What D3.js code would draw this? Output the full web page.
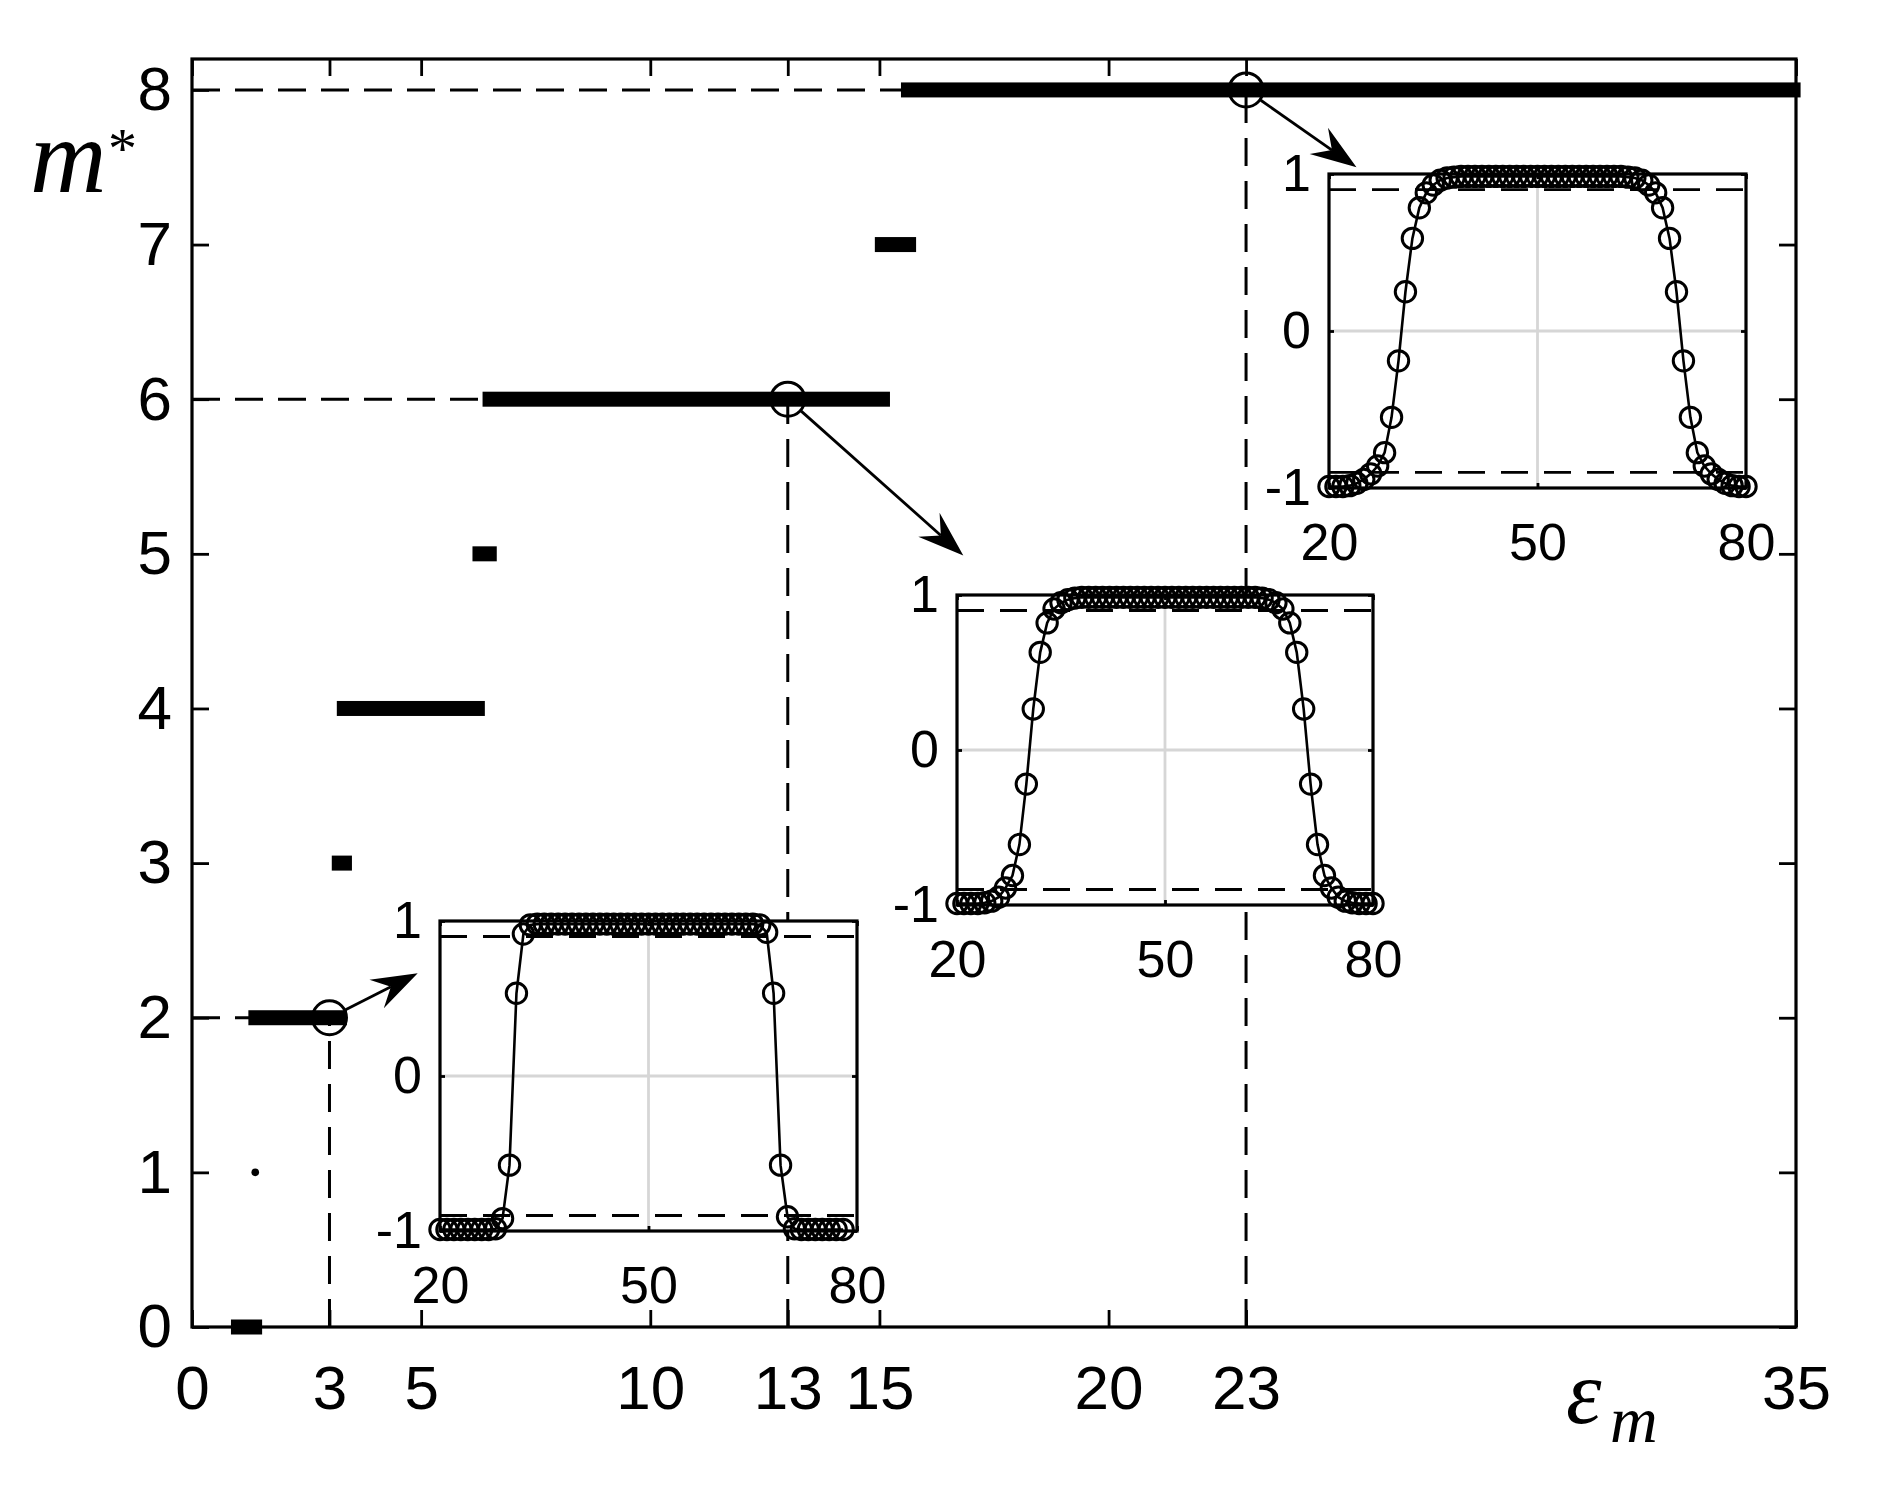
<!DOCTYPE html>
<html><head><meta charset="utf-8">
<script src="https://cdn.jsdelivr.net/npm/d3@7/dist/d3.min.js"></script>
<style>
body{margin:0;background:#fff}
</style>
</head><body>
<svg id="c" width="1881" height="1493"></svg>
<script>
// ---------- data ----------
const xTickValues = [0, 3, 5, 10, 13, 15, 20, 23, 35];
const yTickValues = [0, 1, 2, 3, 4, 5, 6, 7, 8];

// stable branches: m* value and epsilon range
const branchM        = [0,    2,    3,    4,    5,    6,     7,    8];
const branchEpsStart = [0.85, 1.23, 3.05, 3.16, 6.12, 6.34, 14.90, 15.47];
const branchEpsEnd   = [1.53, 3.38, 3.49, 6.39, 6.65, 15.23, 15.80, 35.10];

// isolated point
const isolatedEps = [1.38];
const isolatedM   = [1];

// highlighted states (circle + dashed guides)
const markedEps = [3, 13, 23];
const markedM   = [2, 6, 8];

// arrow tips (data units of main axes)
const arrowTipEps = [4.925, 16.83, 25.41];
const arrowTipM   = [2.287, 4.99, 7.50];

// inset profiles
const insetXs = [20,21,22,23,24,25,26,27,28,29,30,31,32,33,34,35,36,37,38,39,40,41,42,43,44,45,46,47,48,49,50,
                 51,52,53,54,55,56,57,58,59,60,61,62,63,64,65,66,67,68,69,70,71,72,73,74,75,76,77,78,79,80];
const insetM2 = [-0.99,-0.99,-0.99,-0.99,-0.99,-0.99,-0.99,-0.99,-0.985,
  -0.92,-0.575,0.534,0.916,
  0.975,0.98,0.98,0.98,0.98,0.98,0.98,0.98,0.98,0.98,0.98,0.98,0.98,0.98,0.98,0.98,0.98,0.98,
  0.98,0.98,0.98,0.98,0.98,0.98,0.98,0.98,0.98,0.98,0.98,0.98,0.98,0.98,0.98,0.975,
  0.927,0.534,-0.575,-0.908,
  -0.985,-0.99,-0.99,-0.99,-0.99,-0.99,-0.99,-0.99];
const insetM6 = [-0.99,-0.99,-0.99,-0.99,
  -0.985,-0.975,-0.95,-0.89,-0.81,-0.61,-0.22,0.265,0.63,0.82,0.91,0.95,0.97,0.98,
  0.985,0.985,0.985,0.985,0.985,0.985,0.985,0.985,0.985,0.985,0.985,0.985,0.985,
  0.985,0.985,0.985,0.985,0.985,0.985,0.985,0.985,0.985,0.985,0.985,0.985,0.985,
  0.98,0.97,0.95,0.91,0.82,0.63,0.265,-0.22,-0.61,-0.81,-0.89,-0.95,-0.975,-0.985,
  -0.99,-0.99,-0.99];
const insetM8 = [-0.99,-0.99,-0.99,
  -0.985,-0.97,-0.945,-0.91,-0.86,-0.775,-0.55,-0.19,0.25,0.59,0.785,0.88,0.93,0.96,0.975,0.98,
  0.985,0.985,0.985,0.985,0.985,0.985,0.985,0.985,0.985,0.985,0.985,0.985,
  0.985,0.985,0.985,0.985,0.985,0.985,0.985,0.985,0.985,0.985,0.985,0.985,
  0.98,0.975,0.96,0.93,0.88,0.785,0.59,0.25,-0.19,-0.55,-0.775,-0.86,-0.91,-0.945,-0.97,-0.985,
  -0.99,-0.99];
const insetXTicks = [20, 50, 80];
const insetYTicks = [-1, 0, 1];
const insetBand   = [-0.9, 0.9];

// ---------- layout ----------
const SANS = "'Liberation Sans', Arial, sans-serif";
const SERIF = "'Liberation Serif', 'Times New Roman', serif";
const fmt = d => String(d);   // plain hyphen minus, as in the original
const svg = d3.select("#c");
svg.append("rect").attr("width",1881).attr("height",1493).attr("fill","#fff");
const PL = 192, PR = 1796, PT = 59, PB = 1327;
const x = d3.scaleLinear().domain([0, 35]).range([PL, PR]);
const y = d3.scaleLinear().domain([0, 8.2]).range([PB, PT]);

const DASH = "28,15";
const g = svg.append("g");

// dashed guides
markedEps.forEach((e, i) => {
  g.append("line").attr("x1", x(0)).attr("x2", x(e)).attr("y1", y(markedM[i])).attr("y2", y(markedM[i]))
    .attr("stroke","#000").attr("stroke-width",3).attr("stroke-dasharray",DASH);
  g.append("line").attr("x1", x(e)).attr("x2", x(e)).attr("y1", y(0)).attr("y2", y(markedM[i]))
    .attr("stroke","#000").attr("stroke-width",3).attr("stroke-dasharray",DASH);
});

// branches
const BAR = 15;
g.selectAll("rect.branch").data(branchM).enter().append("rect").attr("class","branch")
  .attr("x", (d,i) => x(branchEpsStart[i]))
  .attr("width", (d,i) => x(branchEpsEnd[i]) - x(branchEpsStart[i]))
  .attr("y", d => y(d) - BAR/2).attr("height", BAR).attr("fill","#000");
g.selectAll("circle.iso").data(isolatedM).enter().append("circle")
  .attr("cx",(d,i)=>x(isolatedEps[i])).attr("cy",d=>y(d)).attr("r",3.8).attr("fill","#000");

// marked circles
const RC = 17;
g.selectAll("circle.mark").data(markedM).enter().append("circle")
  .attr("cx",(d,i)=>x(markedEps[i])).attr("cy",d=>y(d)).attr("r",RC)
  .attr("fill","none").attr("stroke","#000").attr("stroke-width",3);

// arrows
markedM.forEach((m, i) => {
  const cx = x(markedEps[i]), cy = y(m);
  const tx = x(arrowTipEps[i]), ty = y(arrowTipM[i]);
  const dx = tx - cx, dy = ty - cy, len = Math.hypot(dx, dy);
  const ux = dx/len, uy = dy/len, nx = -uy, ny = ux;
  const sx = cx + ux*(RC+1), sy = cy + uy*(RC+1);
  const HL = 46, HW = 16, NOTCH = 30;
  g.append("line").attr("x1",sx).attr("y1",sy).attr("x2",tx-ux*NOTCH).attr("y2",ty-uy*NOTCH)
    .attr("stroke","#000").attr("stroke-width",2.8);
  const p = [[tx,ty],[tx-ux*HL+nx*HW, ty-uy*HL+ny*HW],[tx-ux*NOTCH, ty-uy*NOTCH],[tx-ux*HL-nx*HW, ty-uy*HL-ny*HW]];
  g.append("path").attr("d","M"+p.map(q=>q.join(",")).join("L")+"Z").attr("fill","#000");
});

// main axes
const FS = 62;
const ax = svg.append("g");
const axL = ax.append("g").attr("transform",`translate(${PL},0)`)
  .call(d3.axisLeft(y).tickValues(yTickValues).tickFormat(fmt).tickSizeInner(-17).tickSizeOuter(0).tickPadding(20));
const axB = ax.append("g").attr("transform",`translate(0,${PB})`)
  .call(d3.axisBottom(x).tickValues(xTickValues).tickFormat(fmt).tickSizeInner(-17).tickSizeOuter(0).tickPadding(38));
const axR = ax.append("g").attr("transform",`translate(${PR},0)`)
  .call(d3.axisRight(y).tickValues(yTickValues).tickFormat("").tickSizeInner(-17).tickSizeOuter(0));
const axT = ax.append("g").attr("transform",`translate(0,${PT})`)
  .call(d3.axisTop(x).tickValues(xTickValues).tickFormat("").tickSizeInner(-17).tickSizeOuter(0));
[axL,axB,axR,axT].forEach(a => {
  a.select(".domain").remove();
  a.selectAll(".tick line").attr("stroke","#000").attr("stroke-width",2.8);
  a.selectAll("text").style("font-size",FS+"px").style("font-family",SANS).attr("fill","#000");
});
ax.append("rect").attr("x",PL).attr("y",PT).attr("width",PR-PL).attr("height",PB-PT)
  .attr("fill","none").attr("stroke","#000").attr("stroke-width",3.2);

// axis labels
const lab = svg.append("g");
function label(tx, ty, size, str, italic) {
  lab.append("text").attr("x",tx).attr("y",ty).text(str)
    .style("font-family",SERIF).style("font-size",size+"px").style("font-style",italic?"italic":"normal").attr("fill","#000");
}
label(30, 192, 106, "m", true);
label(108, 168, 58, "*", false);
label(1566, 1423, 90, "ε", true);
label(1610, 1442, 66, "m", true);

// ---------- insets ----------
const insets = [
  {vals: insetM2, x0: 440, y0: 921, w: 417, h: 310},
  {vals: insetM6, x0: 957, y0: 595, w: 416, h: 310},
  {vals: insetM8, x0: 1329, y0: 174, w: 417, h: 314}
];
insets.forEach(ins => {
  const ig = svg.append("g");
  const ix = d3.scaleLinear().domain([20, 80]).range([ins.x0, ins.x0 + ins.w]);
  const iy = d3.scaleLinear().domain([-1, 1]).range([ins.y0 + ins.h, ins.y0]);
  ig.append("rect").attr("x",ins.x0).attr("y",ins.y0).attr("width",ins.w).attr("height",ins.h).attr("fill","#fff");
  // grid
  ig.selectAll("line.gx").data(insetXTicks.slice(1,2)).enter().append("line")
    .attr("x1",d=>ix(d)).attr("x2",d=>ix(d)).attr("y1",iy(-1)).attr("y2",iy(1))
    .attr("stroke","#d6d6d6").attr("stroke-width",2.8);
  ig.selectAll("line.gy").data(insetYTicks.slice(1,2)).enter().append("line")
    .attr("y1",d=>iy(d)).attr("y2",d=>iy(d)).attr("x1",ix(20)).attr("x2",ix(80))
    .attr("stroke","#d6d6d6").attr("stroke-width",2.8);
  // axes
  const a1 = ig.append("g").attr("transform",`translate(${ins.x0},0)`)
    .call(d3.axisLeft(iy).tickValues(insetYTicks).tickFormat(fmt).tickSizeInner(-5).tickSizeOuter(0).tickPadding(18));
  const a2 = ig.append("g").attr("transform",`translate(0,${ins.y0+ins.h})`)
    .call(d3.axisBottom(ix).tickValues(insetXTicks).tickFormat(fmt).tickSizeInner(-5).tickSizeOuter(0).tickPadding(35));
  const a3 = ig.append("g").attr("transform",`translate(${ins.x0+ins.w},0)`)
    .call(d3.axisRight(iy).tickValues(insetYTicks).tickFormat("").tickSizeInner(-5).tickSizeOuter(0));
  const a4 = ig.append("g").attr("transform",`translate(0,${ins.y0})`)
    .call(d3.axisTop(ix).tickValues(insetXTicks).tickFormat("").tickSizeInner(-5).tickSizeOuter(0));
  [a1,a2,a3,a4].forEach(a => {
    a.select(".domain").remove();
    a.selectAll(".tick line").attr("stroke","#000").attr("stroke-width",2.8);
    a.selectAll("text").style("font-size","52px").style("font-family",SANS).attr("fill","#000");
  });
  // threshold dashed lines
  ig.selectAll("line.th").data(insetBand).enter().append("line")
    .attr("x1",ix(20)).attr("x2",ix(80)).attr("y1",d=>iy(d)).attr("y2",d=>iy(d))
    .attr("stroke","#000").attr("stroke-width",2.8).attr("stroke-dasharray","27,16");
  ig.append("rect").attr("x",ins.x0).attr("y",ins.y0).attr("width",ins.w).attr("height",ins.h)
    .attr("fill","none").attr("stroke","#000").attr("stroke-width",3.2);
  // profile
  ig.append("path").datum(ins.vals)
    .attr("d", d3.line().x((d,i)=>ix(insetXs[i])).y(d=>iy(d)))
    .attr("fill","none").attr("stroke","#000").attr("stroke-width",2.6);
  ig.selectAll("circle.p").data(ins.vals).enter().append("circle")
    .attr("cx",(d,i)=>ix(insetXs[i])).attr("cy",d=>iy(d)).attr("r",10.2)
    .attr("fill","none").attr("stroke","#000").attr("stroke-width",3);
});
</script>
</body></html>
